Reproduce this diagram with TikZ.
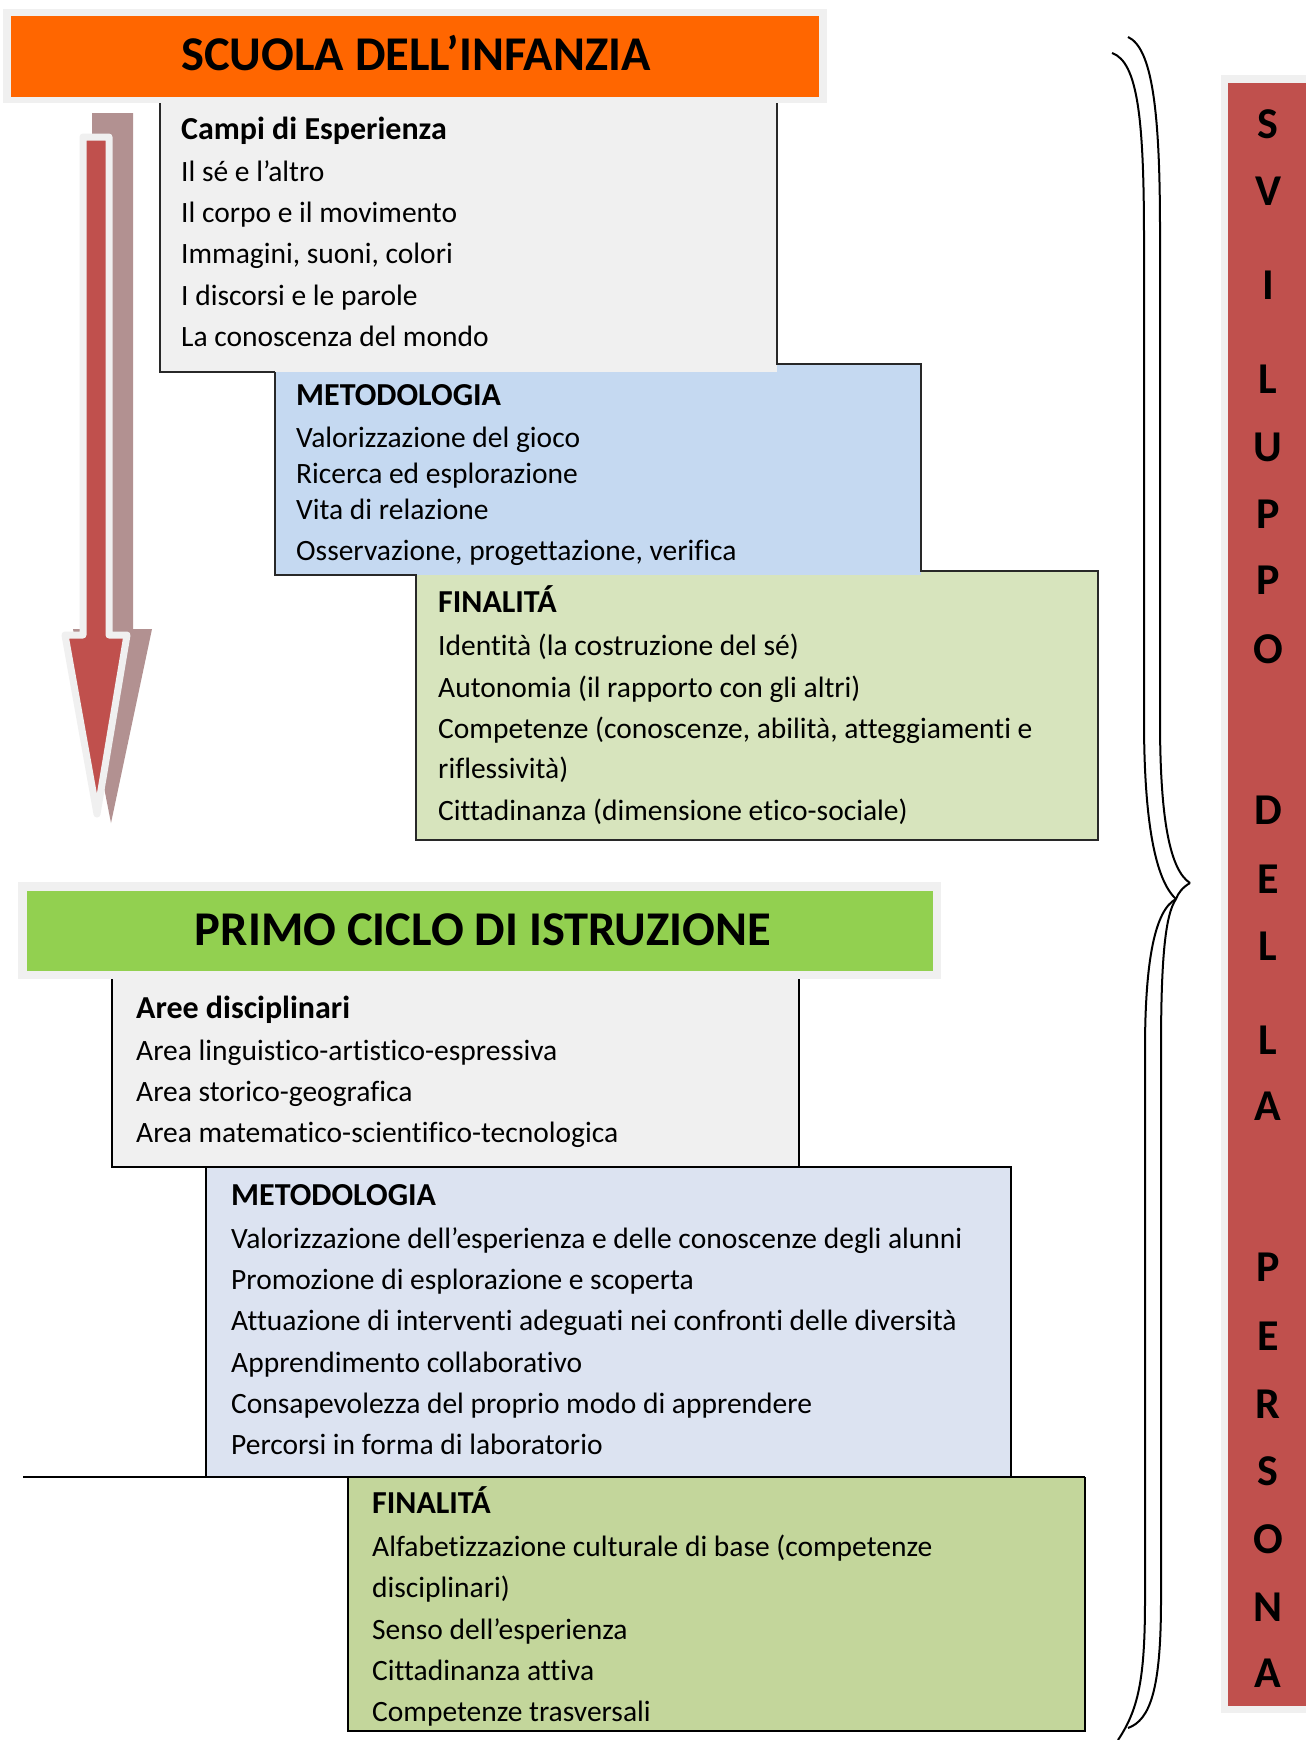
\documentclass[tikz,border=0pt]{standalone}
\usepackage{fontspec}
\setmainfont{Carlito}[Ligatures=NoCommon]
\definecolor{orangeh}{RGB}{255,102,0}
\definecolor{greenh}{RGB}{146,208,80}
\definecolor{frameg}{RGB}{240,240,240}
\definecolor{grayb}{RGB}{240,240,240}
\definecolor{blueb}{RGB}{197,217,241}
\definecolor{blueb2}{RGB}{220,227,241}
\definecolor{greenb}{RGB}{215,228,189}
\definecolor{greenb2}{RGB}{195,214,155}
\definecolor{redc}{RGB}{192,80,77}
\definecolor{shadowc}{RGB}{178,145,145}
\definecolor{edgeg}{RGB}{40,40,40}
\begin{document}
\begin{tikzpicture}[x=1pt,y=-1pt,
  txt/.style={anchor=base west,inner sep=0pt,font=\fontsize{29.5}{35}\selectfont},
  hd/.style={anchor=base west,inner sep=0pt,font=\fontsize{32}{38}\selectfont\bfseries},
  ttl/.style={anchor=base,inner sep=0pt,font=\fontsize{48.5}{58}\selectfont\bfseries},
  ltr/.style={anchor=base,inner sep=0pt,font=\fontsize{44}{52}\selectfont\bfseries},
  edge1/.style={draw=edgeg,line width=1.3pt},
  edge2/.style={draw=black,line width=2pt},
  brace/.style={draw=black,line width=2pt}]
\useasboundingbox (0,0) rectangle (1306,1740);
\fill[white] (0,0) rectangle (1306,1740);

% ---------- upper section ----------
\fill[frameg] (3,9) rectangle (827,103);
\fill[orangeh] (11,16) rectangle (819,97);
\node[ttl] (t1) at (416,70) {SCUOLA DELL’INFANZIA};

\fill[greenb] (416,571) rectangle (1098,840);
\fill[blueb] (275,364) rectangle (921,575);
\fill[grayb] (160,103) rectangle (777,372);
% visible borders
\draw[edge1] (160,103) -- (160,372) -- (275,372);
\draw[edge1] (777,103) -- (777,364) -- (921,364) -- (921,571) -- (1098,571) -- (1098,840) -- (416,840) -- (416,575) -- (275,575) -- (275,372);

\node[hd] (c0) at (181,139) {Campi di Esperienza};
\node[txt] (c1) at (181,181) {Il sé e l’altro};
\node[txt] (c2) at (181,222) {Il corpo e il movimento};
\node[txt] (c3) at (181,263) {Immagini, suoni, colori};
\node[txt] (c4) at (181,305) {I discorsi e le parole};
\node[txt] (c5) at (181,346) {La conoscenza del mondo};

\node[hd] (m0) at (296,405) {METODOLOGIA};
\node[txt] (m1) at (296,447) {Valorizzazione del gioco};
\node[txt] (m2) at (296,483) {Ricerca ed esplorazione};
\node[txt] (m3) at (296,519) {Vita di relazione};
\node[txt] (m4) at (296,560) {Osservazione, progettazione, verifica};

\node[hd] (f0) at (438,612) {FINALITÁ};
\node[txt] (f1) at (438,655) {Identità (la costruzione del sé)};
\node[txt] (f2) at (438,697) {Autonomia (il rapporto con gli altri)};
\node[txt] (f3) at (438,738) {Competenze (conoscenze, abilità, atteggiamenti e};
\node[txt] (f4) at (438,778) {riflessività)};
\node[txt] (f5) at (438,820) {Cittadinanza (dimensione etico-sociale)};

% ---------- arrow ----------
\fill[shadowc] (92,113) -- (133,113) -- (133,629) -- (152,629) -- (111,823) -- (73,629) -- (92,629) -- cycle;
\filldraw[fill=redc,draw=frameg,line width=7pt,line join=round]
  (83,137) -- (109,137) -- (109,635) -- (127,635) -- (97,814) -- (65,635) -- (83,635) -- cycle;

% ---------- lower section ----------
\fill[frameg] (18,882) rectangle (941,979);
\fill[greenh] (27,891) rectangle (933,971);
\node[ttl] (t2) at (483,945) {PRIMO CICLO DI ISTRUZIONE};

\fill[grayb] (112,979) rectangle (799,1167);
\fill[blueb2] (206,1167) rectangle (1011,1477);
\fill[greenb2] (348,1477) rectangle (1085,1731);
\draw[edge2] (112,979) -- (112,1167) -- (1011,1167) -- (1011,1477);
\draw[edge2] (799,979) -- (799,1167);
\draw[edge2] (206,1167) -- (206,1477);
\draw[black,line width=2.8pt] (23,1477) -- (1085,1477);
\draw[black,line width=2.6pt] (1085,1477) -- (1085,1731) -- (348,1731) -- (348,1477);

\node[hd] (a0) at (136,1018) {Aree disciplinari};
\node[txt] (a1) at (136,1060) {Area linguistico-artistico-espressiva};
\node[txt] (a2) at (136,1101) {Area storico-geografica};
\node[txt] (a3) at (136,1142) {Area matematico-scientifico-tecnologica};

\node[hd] (n0) at (231,1205) {METODOLOGIA};
\node[txt] (n1) at (231,1248) {Valorizzazione dell’esperienza e delle conoscenze degli alunni};
\node[txt] (n2) at (231,1289) {Promozione di esplorazione e scoperta};
\node[txt] (n3) at (231,1330) {Attuazione di interventi adeguati nei confronti delle diversità};
\node[txt] (n4) at (231,1372) {Apprendimento collaborativo};
\node[txt] (n5) at (231,1413) {Consapevolezza del proprio modo di apprendere};
\node[txt] (n6) at (231,1454) {Percorsi in forma di laboratorio};

\node[hd] (g0) at (372,1513) {FINALITÁ};
\node[txt] (g1) at (372,1556) {Alfabetizzazione culturale di base (competenze};
\node[txt] (g2) at (372,1597) {disciplinari)};
\node[txt] (g3) at (372,1639) {Senso dell’esperienza};
\node[txt] (g4) at (372,1680) {Cittadinanza attiva};
\node[txt] (g5) at (372,1721) {Competenze trasversali};

% ---------- brace ----------
\draw[brace] (1112,53) .. controls (1138,62) and (1144,120) .. (1144,240) -- (1144,720) .. controls (1144,820) and (1155,880) .. (1176,899);
\draw[brace] (1128,37) .. controls (1152,48) and (1160,110) .. (1160,230) -- (1160,720) .. controls (1160,820) and (1170,870) .. (1190,883);
\draw[brace] (1190,883) .. controls (1183,887) and (1178,893) .. (1176,899);
\draw[brace] (1176,899) .. controls (1155,910) and (1145,960) .. (1145,1050) -- (1145,1600) .. controls (1145,1680) and (1138,1710) .. (1118,1740);
\draw[brace] (1176,899) .. controls (1165,915) and (1161,960) .. (1161,1050) -- (1161,1600) .. controls (1161,1690) and (1150,1720) .. (1128,1728);

% ---------- right column ----------
\fill[frameg] (1221,75) rectangle (1306,1713);
\fill[redc] (1228,83) rectangle (1306,1706);
\node[ltr] (l1) at (1268,138) {S};
\node[ltr] (l2) at (1268,205) {V};
\node[ltr] (l3) at (1268,299) {I};
\node[ltr] (l4) at (1268,393) {L};
\node[ltr] (l5) at (1268,461) {U};
\node[ltr] (l6) at (1268,528) {P};
\node[ltr] (l7) at (1268,594) {P};
\node[ltr] (l8) at (1268,663) {O};
\node[ltr] (l9) at (1268,824) {D};
\node[ltr] (l10) at (1268,893) {E};
\node[ltr] (l11) at (1268,960) {L};
\node[ltr] (l12) at (1268,1054) {L};
\node[ltr] (l13) at (1268,1120) {A};
\node[ltr] (l14) at (1268,1281) {P};
\node[ltr] (l15) at (1268,1350) {E};
\node[ltr] (l16) at (1268,1418) {R};
\node[ltr] (l17) at (1268,1485) {S};
\node[ltr] (l18) at (1268,1553) {O};
\node[ltr] (l19) at (1268,1621) {N};
\node[ltr] (l20) at (1268,1687) {A};
\end{tikzpicture}
\end{document}
